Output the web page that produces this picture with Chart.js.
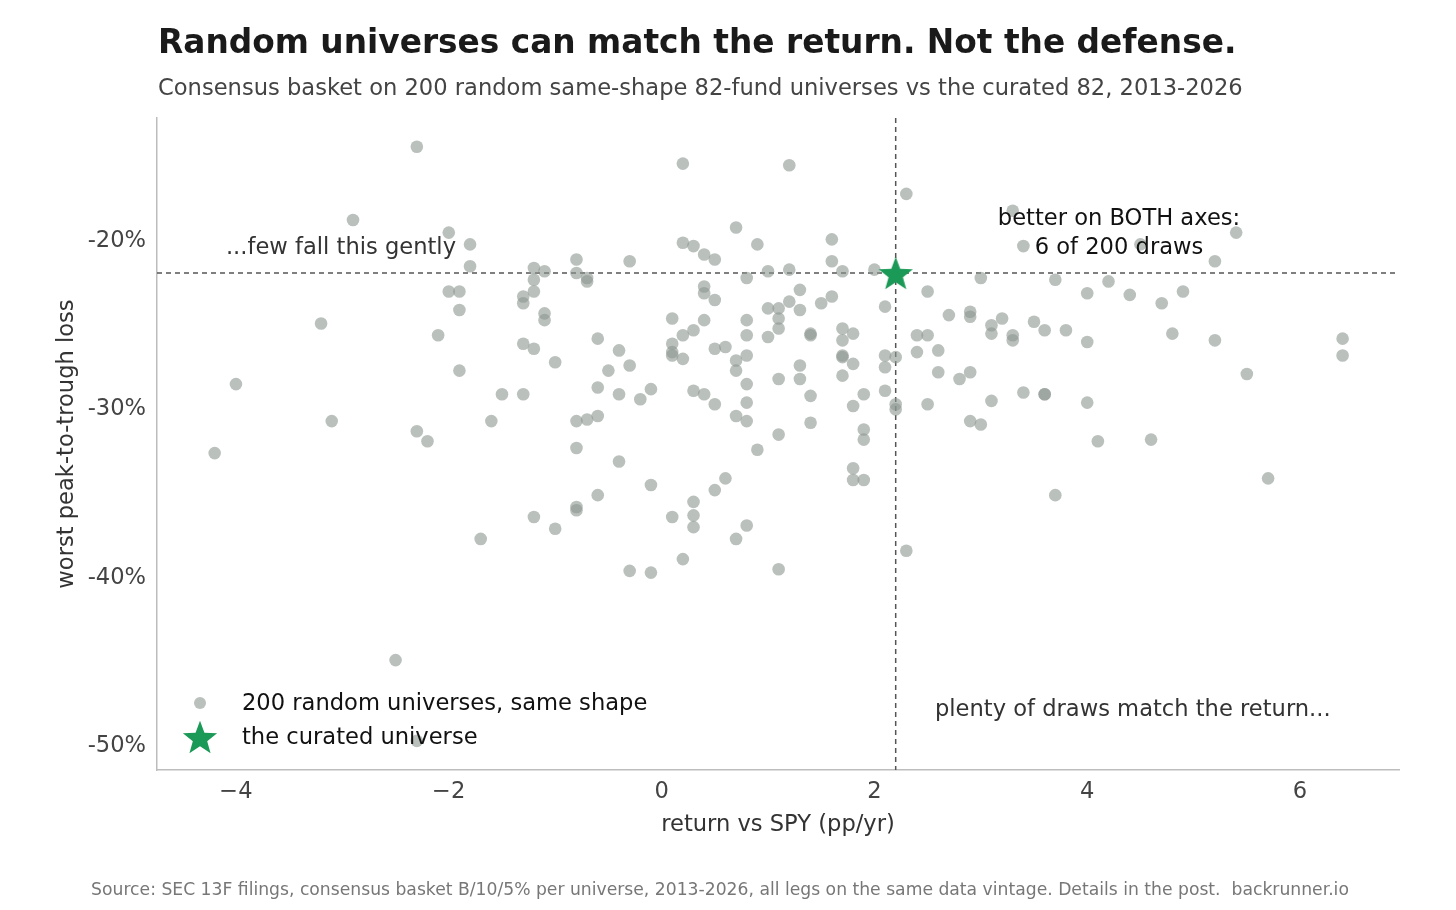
<!DOCTYPE html>
<html>
<head>
<meta charset="utf-8">
<script src="https://cdn.jsdelivr.net/npm/chart.js@4"></script>
<style>
  html, body { margin: 0; padding: 0; background: #fff; }
  #wrap { width: 1456px; height: 910px; }
</style>
</head>
<body>
<div id="wrap"><canvas id="c" width="1456" height="910"></canvas></div>
<script>
// ---- Data ----
const randomReturn = [
  -2.3,-2.9,-2.0,-1.8,-1.8,-1.2,-1.1,-0.8,-0.8,-2.0,-1.9,-1.9,-1.2,-1.2,-1.3,-1.3,-1.1,-1.1,-3.2,-2.1,
  -1.3,-1.2,-1.0,-1.9,-4.0,-1.5,-1.3,-3.1,-1.6,-0.8,-2.3,-2.2,-4.2,-0.8,-0.8,-0.8,-1.2,-1.0,-1.7,-2.5,
  -2.3, 0.2, 1.2, 2.3, 0.7, 0.9, 1.6, 0.2, 0.3, 0.4, 0.5,-0.3, 1.6,-0.7,-0.7, 0.8, 1.0, 1.2, 1.7, 2.0,
   2.5, 3.0, 0.4, 0.4, 0.5, 1.3, 1.2, 1.6, 1.5, 1.0, 1.1, 1.3, 2.1, 2.7, 2.9, 2.9, 0.1, 0.4, 0.8, 1.1,
   1.1, 0.3, 0.2, 0.8, 1.0, 1.4, 1.4, 1.7, 1.8, 1.7, 2.4, 2.5, 2.6,-0.6,-0.4, 0.1, 0.1, 0.1, 0.2, 0.5,
   0.6, 0.7, 0.8, 0.7, 1.7, 1.7, 1.8, 1.7, 2.1, 2.2, 2.1, 2.4, 2.6, 2.8, 2.9,-0.5,-0.3,-0.6,-0.4,-0.2,
  -0.1, 0.3, 0.4, 0.5, 0.8, 1.1, 1.3, 1.3, 1.4, 0.8, 0.7, 0.8, 1.4, 1.1, 1.9, 1.8, 2.1, 2.2, 2.2, 2.5,
   2.9, 1.9, 1.9,-0.7,-0.6, 0.9,-0.4, 1.8, 1.8, 1.9,-0.1,-0.6, 0.6, 0.5, 0.3, 0.3, 0.3, 0.1, 0.8, 0.7,
   0.2,-0.3,-0.1, 1.1, 2.3, 3.3, 3.4, 4.5, 5.4, 5.2, 3.7, 4.2, 4.0, 4.4, 4.7, 4.9, 3.2, 3.1, 3.1, 3.3,
   3.3, 3.5, 3.6, 3.8, 4.0, 4.8, 5.2, 6.4, 6.4, 5.5, 3.1, 3.4, 3.6, 3.6, 4.0, 3.0, 4.1, 4.6, 5.7, 3.7
];
const randomDrawdown = [
  -14.4,-18.75,-19.5,-20.2,-21.5,-21.6,-21.8,-21.1,-21.9,-23.0,-23.0,-24.1,-22.3,-23.0,-23.3,-23.7,-24.3,-24.7,-24.9,-25.6,
  -26.1,-26.4,-27.2,-27.7,-28.5,-29.1,-29.1,-30.7,-30.7,-30.7,-31.3,-31.9,-32.6,-32.3,-35.8,-36.0,-36.4,-37.1,-37.7,-44.9,
  -49.7,-15.4,-15.5,-17.2,-19.2,-20.2,-19.9,-20.1,-20.3,-20.8,-21.1,-21.2,-21.2,-22.2,-22.4,-22.2,-21.8,-21.7,-21.8,-21.7,
  -23.0,-22.2,-22.7,-23.1,-23.5,-22.9,-23.6,-23.3,-23.7,-24.0,-24.0,-24.1,-23.9,-24.4,-24.2,-24.5,-24.6,-24.7,-24.7,-24.6,
  -25.2,-25.3,-25.6,-25.6,-25.7,-25.5,-25.6,-25.2,-25.5,-25.9,-25.6,-25.6,-26.5,-25.8,-26.5,-26.1,-26.6,-26.8,-27.0,-26.4,
  -26.3,-27.1,-26.8,-27.7,-26.8,-26.9,-27.3,-28.0,-26.8,-26.9,-27.5,-26.6,-27.8,-28.2,-27.8,-27.7,-27.4,-28.7,-29.1,-29.4,
  -28.8,-28.9,-29.1,-29.7,-28.5,-28.2,-27.4,-28.2,-29.2,-29.6,-30.4,-30.7,-30.8,-31.5,-29.1,-29.8,-28.9,-29.7,-30.0,-29.7,
  -30.7,-31.2,-31.8,-30.6,-30.4,-32.4,-33.1,-33.5,-34.2,-34.2,-34.5,-35.1,-34.1,-34.8,-35.5,-36.3,-37.0,-36.4,-36.9,-37.7,
  -38.9,-39.6,-39.7,-39.5,-38.4,-18.2,-20.3,-20.2,-19.5,-21.2,-22.3,-22.4,-23.1,-23.2,-23.7,-23.0,-24.6,-25.0,-25.5,-25.6,
  -25.9,-24.8,-25.3,-25.3,-26.0,-25.5,-25.9,-25.8,-26.8,-27.9,-29.5,-29.0,-29.1,-29.1,-29.6,-30.9,-31.9,-31.8,-34.1,-35.1
];
const curatedReturn = [2.2];
const curatedDrawdown = [-21.9];
const xTickValues = [-4, -2, 0, 2, 4, 6];
const xTickLabels = ["\u22124", "\u22122", "0", "2", "4", "6"];
const yTickValues = [-50, -40, -30, -20];
const yTickLabels = ["-50%", "-40%", "-30%", "-20%"];
const seriesNames = ["200 random universes, same shape", "the curated universe"];

// ---- Styles ----
const FONT = "'DejaVu Sans', 'Liberation Sans', sans-serif";
const GREY_PT = 'rgba(140,150,143,0.6)';
const GREEN = '#1b9a57';
const TXT = 22.6;

function makeStar(size, color) {
  const cv = document.createElement('canvas');
  cv.width = size; cv.height = size;
  const g = cv.getContext('2d');
  const cx = size / 2, cy = size / 2 + size * 0.05;
  const R = size / 2, r = R * 0.42;
  g.beginPath();
  for (let i = 0; i < 10; i++) {
    const rad = i % 2 === 0 ? R : r;
    const a = -Math.PI / 2 + i * Math.PI / 5;
    const px = cx + rad * Math.cos(a), py = cy + rad * Math.sin(a);
    if (i === 0) g.moveTo(px, py); else g.lineTo(px, py);
  }
  g.closePath();
  g.fillStyle = color;
  g.fill();
  return cv;
}
const starImg = makeStar(36, GREEN);

const randomPts = randomReturn.map((x, i) => ({ x: x, y: randomDrawdown[i] }));
const curatedPts = curatedReturn.map((x, i) => ({ x: x, y: curatedDrawdown[i] }));

const decor = {
  id: 'decor',
  beforeDatasetsDraw(chart) {
    const { ctx, chartArea: a, scales: { x, y } } = chart;
    const vx = x.getPixelForValue(curatedReturn[0]);
    const hy = y.getPixelForValue(curatedDrawdown[0]);
    ctx.save();
    ctx.strokeStyle = '#555';
    ctx.lineWidth = 1.5;
    ctx.setLineDash([5, 4]);
    ctx.beginPath();
    ctx.moveTo(vx, a.top); ctx.lineTo(vx, a.bottom);
    ctx.moveTo(a.left, hy); ctx.lineTo(a.right, hy);
    ctx.stroke();
    ctx.restore();
  },
  afterDraw(chart) {
    const { ctx, chartArea: a } = chart;
    ctx.save();
    ctx.textBaseline = 'alphabetic';
    // title + subtitle
    ctx.fillStyle = '#1a1a1a';
    ctx.font = `bold 32.8px ${FONT}`;
    ctx.textAlign = 'left';
    ctx.fillText('Random universes can match the return. Not the defense.', 158, 53);
    ctx.fillStyle = '#444';
    ctx.font = `${TXT}px ${FONT}`;
    ctx.fillText('Consensus basket on 200 random same-shape 82-fund universes vs the curated 82, 2013-2026', 158, 95);
    // axis titles
    ctx.fillStyle = '#333';
    ctx.font = `${TXT}px ${FONT}`;
    ctx.textAlign = 'center';
    ctx.textBaseline = 'middle';
    ctx.fillText('return vs SPY (pp/yr)', (a.left + a.right) / 2, 825);
    ctx.save();
    ctx.translate(67, (a.top + a.bottom) / 2);
    ctx.rotate(-Math.PI / 2);
    ctx.fillText('worst peak-to-trough loss', 0, 0);
    ctx.restore();
    // annotations
    ctx.fillStyle = '#333';
    ctx.textAlign = 'right';
    ctx.fillText('...few fall this gently', 456, 248);
    ctx.fillStyle = '#111';
    ctx.textAlign = 'center';
    ctx.fillText('better on BOTH axes:', 1119, 219);
    ctx.fillText('6 of 200 draws', 1119, 248);
    ctx.fillStyle = '#333';
    ctx.textAlign = 'left';
    ctx.fillText('plenty of draws match the return...', 935, 710);
    // legend
    ctx.beginPath();
    ctx.arc(200, 703, 6, 0, Math.PI * 2);
    ctx.fillStyle = GREY_PT;
    ctx.fill();
    ctx.drawImage(starImg, 200 - 18, 737 - 18);
    ctx.fillStyle = '#111';
    ctx.textAlign = 'left';
    ctx.fillText(seriesNames[0], 242, 704);
    ctx.fillText(seriesNames[1], 242, 738);
    // footer
    ctx.fillStyle = '#777';
    ctx.font = `17.2px ${FONT}`;
    ctx.textAlign = 'center';
    ctx.fillText('Source: SEC 13F filings, consensus basket B/10/5% per universe, 2013-2026, all legs on the same data vintage. Details in the post.  backrunner.io', 720, 891);
    ctx.restore();
  }
};

new Chart(document.getElementById('c'), {
  type: 'scatter',
  data: {
    datasets: [
      {
        label: seriesNames[1],
        data: curatedPts,
        pointStyle: starImg,
        pointRadius: 18,
        backgroundColor: GREEN,
        borderWidth: 0
      },
      {
        label: seriesNames[0],
        data: randomPts,
        pointStyle: 'circle',
        pointRadius: 6.3,
        backgroundColor: GREY_PT,
        borderWidth: 0
      }
    ]
  },
  options: {
    responsive: false,
    animation: false,
    devicePixelRatio: 1,
    layout: { padding: { left: 0, top: 118, right: 57, bottom: 0 } },
    plugins: { legend: { display: false }, tooltip: { enabled: false } },
    scales: {
      x: {
        type: 'linear',
        min: -4.742, max: 6.93,
        afterFit: s => { s.height = 140; },
        afterBuildTicks: s => { s.ticks = xTickValues.map(v => ({ value: v })); },
        grid: { display: false },
        border: { display: true, color: '#bdbdbd', width: 1.5 },
        ticks: {
          padding: 1,
          color: '#444',
          font: { family: FONT, size: TXT },
          callback: (v) => xTickLabels[xTickValues.indexOf(v)]
        }
      },
      y: {
        type: 'linear',
        min: -51.43, max: -12.69,
        afterFit: s => { s.width = 157; },
        afterBuildTicks: s => { s.ticks = yTickValues.map(v => ({ value: v })); },
        grid: { display: false },
        border: { display: true, color: '#bdbdbd', width: 1.5 },
        ticks: {
          padding: 3,
          color: '#444',
          font: { family: FONT, size: TXT },
          callback: (v) => yTickLabels[yTickValues.indexOf(v)]
        }
      }
    }
  },
  plugins: [decor]
});
</script>
</body>
</html>
